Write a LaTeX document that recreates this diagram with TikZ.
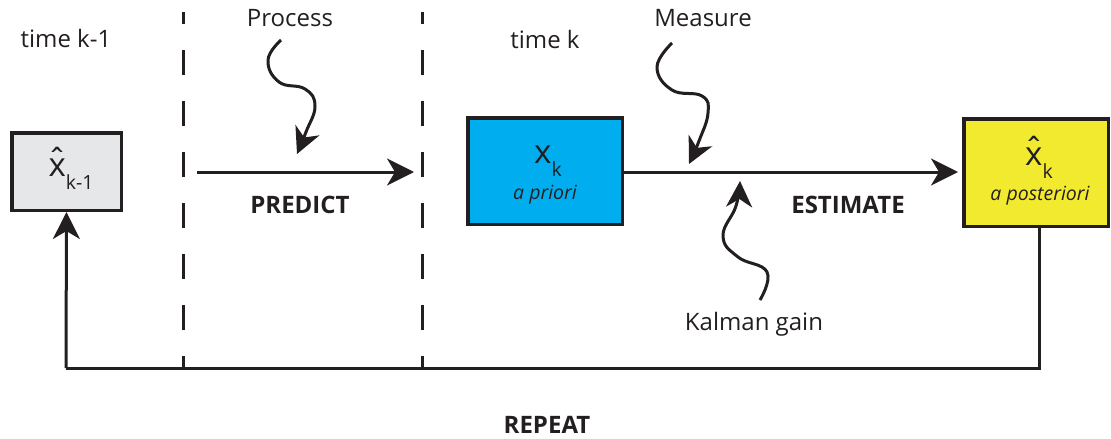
\documentclass[tikz,border=0pt]{standalone}
\usepackage{fontspec}
\setmainfont{Open Sans}
\usetikzlibrary{arrows.meta}
\definecolor{ink}{HTML}{231F20}
\definecolor{boxgray}{HTML}{E6E7E8}
\definecolor{boxblue}{HTML}{00AEEF}
\definecolor{boxyellow}{HTML}{F2EA2F}
\newcommand\bigx{{\fontsize{33}{33}\selectfont x}}
\newcommand\hatbigx{{\fontsize{33}{33}\selectfont\ooalign{x\cr\hidewidth\raisebox{4pt}{\char"02C6}\hidewidth\cr}}}
\newcommand\sub[1]{\raisebox{-13pt}{\fontsize{19.5}{19.5}\selectfont #1}}
\begin{document}
\begin{tikzpicture}[x=1pt,y=-1pt,
  every node/.style={text=ink, inner sep=0pt},
  statebox/.style={draw=ink, line width=3.5pt, minimum width=#1},
  lbl/.style={font=\fontsize{24}{26}\selectfont, anchor=base},
  bold/.style={font=\fontsize{24}{26}\selectfont\bfseries, anchor=base},
  note/.style={font=\fontsize{19.5}{21}\selectfont\itshape, anchor=base},
  conn/.style={draw=ink, line width=3pt, -{Stealth[length=27pt,width=27pt,inset=8pt]}},
  plain/.style={draw=ink, line width=3pt},
  wavy/.style={draw=ink, line width=3pt, -{Stealth[length=26pt,width=26pt,inset=8pt]}},
  divider/.style={draw=ink, line width=3pt, dash pattern=on 25pt off 26pt, dash phase=13pt}]
\useasboundingbox (0,0) rectangle (1111,439);

% boxes
\node[statebox=109.5pt, minimum height=77.5pt, fill=boxgray] (prev) at (66.5,171.5) {};
\node[statebox=154.5pt, minimum height=106.5pt, fill=boxblue] (prior) at (545,171) {};
\node[statebox=144.5pt, minimum height=107.5pt, fill=boxyellow] (post) at (1036,172.5) {};

% box texts
\node[anchor=base] (prevT) at (71,176) {\hatbigx\sub{k-1}};
\node[anchor=base] (priorT) at (548,163) {\bigx\sub{k}};
\node[note] (priorS) at (545,199) {a priori};
\node[anchor=base] (postT) at (1039,165) {\hatbigx\sub{k}};
\node[note] (postS) at (1040,200) {a posteriori};

% labels
\node[lbl] (tk1) at (66,47) {time k-1};
\node[lbl] (proc) at (290,26) {Process};
\node[lbl] (tk) at (545,48) {time k};
\node[lbl] (meas) at (703,26) {Measure};
\node[lbl] (gain) at (754,330) {Kalman gain};
\node[bold] (pred) at (300,213) {PREDICT};
\node[bold] (est) at (848,213) {ESTIMATE};
\node[bold] (rep) at (547,433) {REPEAT};

% dashed dividers
\coordinate (d1t) at (183,12);
\coordinate (d1b) at (183,368);
\coordinate (d2t) at (422,12);
\coordinate (d2b) at (422,368);
\draw[divider] (d1t) -- (d1b);
\draw[divider] (d2t) -- (d2b);

% predict arrow
\coordinate (ps) at (197,172);
\coordinate (pe) at (414,172);
\draw[conn] (ps) -- (pe);

% estimate arrow
\draw[conn, shorten >=4pt] (prior.east |- 0,172) -- (post.west |- 0,172);

% repeat loop
\coordinate (loopR) at (1039,368);
\coordinate (loopL) at (66,368);
\draw[plain] ([xshift=3pt]post.south) -- (loopR) -- (loopL);
\draw[conn] (loopL) -- (prev.south);

% wavy arrows
\coordinate (procTip) at (297,154);
\coordinate (measTip) at (689,164);
\coordinate (gainTip) at (740,181);
\draw[wavy] plot[smooth, tension=0.75] coordinates {(281,40) (268,60) (279,82) (305,89) (315,106) (306,132) (procTip)};
\draw[wavy] plot[smooth, tension=0.75] coordinates {(672,43) (657,67) (672,90) (702,96) (708,113) (699,141) (measTip)};
\draw[wavy] plot[smooth, tension=0.75] coordinates {(760,300) (767,272) (738,257) (723,236) (736,206) (gainTip)};
\end{tikzpicture}
\end{document}
